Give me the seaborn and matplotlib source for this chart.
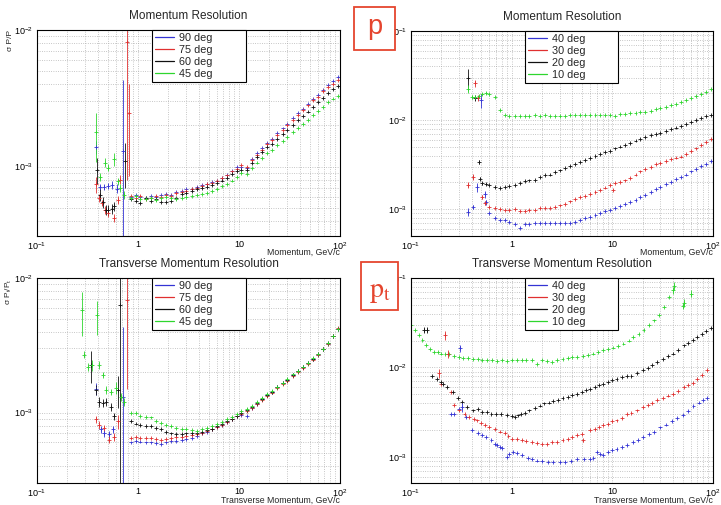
import numpy as np
import pandas as pd
import matplotlib
matplotlib.use("Agg")
import matplotlib.pyplot as plt
import seaborn as sns
from matplotlib.lines import Line2D
from matplotlib.patches import Rectangle
from matplotlib.ticker import FixedLocator, FuncFormatter, LogLocator, NullFormatter

# ---------------- data ----------------
# top left: momentum resolution, 90/75/60/45 deg  (values in units of 1e-4)
tl_x = [0.85, 0.95, 1.05, 1.2, 1.35, 1.5, 1.7, 1.9, 2.1, 2.4, 2.7, 3.0, 3.4, 3.8, 4.3, 4.8, 5.4, 6.0,
        6.8, 7.6, 8.5, 9.5, 10.5, 12, 13.5, 15, 17, 19, 21, 24, 27, 30, 34, 38, 43, 48, 54, 60, 68, 76, 85, 95]
tl_90 = [6.0, 6.2, 6.0, 5.9, 6.1, 6.0, 6.2, 6.3, 6.2, 6.5, 6.6, 6.8, 6.9, 7.1, 7.3, 7.4, 7.7, 7.9, 8.3, 8.7,
         9.3, 9.9, 10.0, 9.8, 11.3, 12.5, 13.6, 15.0, 16.0, 17.5, 19.0, 20.5, 22.5, 24.5, 26.5, 28.5, 31.0,
         33.5, 36.5, 39.5, 42.0, 45.0]
tl_75 = [6.1, 5.9, 6.1, 5.8, 5.9, 6.1, 6.0, 6.2, 6.1, 6.4, 6.5, 6.6, 6.8, 7.0, 7.2, 7.4, 7.6, 7.9, 8.2, 8.6,
         9.2, 9.6, 10.3, 10.0, 11.2, 12.2, 13.3, 14.6, 15.6, 17.0, 18.5, 20.0, 22.0, 24.0, 26.0, 28.0, 30.5,
         32.5, 35.5, 38.0, 40.5, 43.0]
tl_60 = [5.8, 5.6, 5.4, 5.9, 5.6, 5.8, 5.5, 5.5, 5.6, 5.9, 6.3, 6.4, 6.6, 6.8, 7.0, 7.1, 7.3, 7.6, 7.9, 8.3,
         8.8, 9.3, 9.5, 9.4, 10.6, 11.7, 12.7, 13.8, 14.7, 16.0, 17.3, 18.5, 20.2, 21.8, 23.5, 25.3, 27.5,
         29.5, 32.0, 34.5, 37.0, 39.0]
tl_45 = [5.9, 6.1, 5.8, 5.8, 5.9, 5.7, 5.9, 6.0, 5.9, 5.8, 5.9, 6.0, 6.1, 6.2, 6.3, 6.4, 6.6, 6.9, 7.2, 7.5,
         7.9, 8.4, 8.9, 8.8, 9.8, 10.7, 11.6, 12.5, 13.3, 14.3, 15.4, 16.5, 17.8, 19.2, 20.5, 22.0, 23.8,
         25.5, 27.5, 29.5, 31.5, 33.0]
# low momentum points with error bars (units of 1e-3)
tl_90_lo_x = [0.38, 0.42, 0.46, 0.50, 0.55, 0.62, 0.71]
tl_90_lo_y = [1.38, 0.71, 0.71, 0.72, 0.73, 0.69, 1.3]
tl_90_lo_e = [0.15, 0.04, 0.04, 0.04, 0.05, 0.05, 3.0]
tl_75_lo_x = [0.38, 0.41, 0.44, 0.47, 0.51, 0.58, 0.63, 0.66, 0.78, 0.81]
tl_75_lo_y = [0.74, 0.59, 0.54, 0.48, 0.46, 0.42, 0.57, 0.80, 8.2, 2.45]
tl_75_lo_e = [0.10, 0.04, 0.03, 0.03, 0.03, 0.03, 0.04, 0.06, 7.4, 1.6]
tl_60_lo_x = [0.39, 0.42, 0.45, 0.48, 0.51, 0.55, 0.58, 0.75]
tl_60_lo_y = [0.95, 0.62, 0.55, 0.48, 0.48, 0.49, 0.51, 1.1]
tl_60_lo_e = [0.20, 0.06, 0.05, 0.04, 0.04, 0.04, 0.04, 0.4]
tl_45_lo_x = [0.38, 0.42, 0.47, 0.51, 0.58, 0.63, 0.67, 0.72]
tl_45_lo_y = [1.78, 0.84, 1.07, 0.98, 1.13, 0.78, 0.70, 0.62]
tl_45_lo_e = [0.70, 0.06, 0.08, 0.06, 0.12, 0.05, 0.05, 0.04]

# top right: momentum resolution, 40/30/20/10 deg
tr_x = [0.6, 0.68, 0.76, 0.85, 0.95, 1.07, 1.2, 1.35, 1.5, 1.7, 1.9, 2.15, 2.4, 2.7, 3.0, 3.4, 3.8, 4.3,
        4.8, 5.4, 6.0, 6.8, 7.6, 8.5, 9.5, 10.7, 12, 13.5, 15, 17, 19, 21, 24, 27, 30, 34, 38, 43, 48,
        54, 60, 68, 76, 85, 95]
tr_40 = [9.0, 7.9, 7.6, 7.5, 7.2, 6.8, 6.1, 6.9, 6.9, 7.0, 7.0, 7.0, 7.0, 7.0, 7.0, 7.0, 7.0, 7.1, 7.5,
         7.9, 8.2, 8.6, 9.0, 9.5, 9.9, 10.3, 10.8, 11.4, 12.0, 12.8, 13.6, 14.5, 15.6, 16.7, 17.7, 19.0,
         20.3, 21.7, 23.0, 24.5, 26.5, 28.5, 30.5, 32.5, 34.5]           # 1e-4
tr_30 = [1.05, 1.02, 1.0, 0.99, 0.98, 1.0, 0.96, 0.95, 0.97, 0.99, 1.02, 1.04, 1.04, 1.07, 1.1, 1.15,
         1.22, 1.3, 1.37, 1.42, 1.47, 1.55, 1.63, 1.75, 1.85, 1.95, 2.0, 2.1, 2.25, 2.45, 2.65, 2.8, 3.0,
         3.2, 3.3, 3.5, 3.65, 3.8, 3.9, 4.15, 4.45, 4.8, 5.2, 5.65, 6.1]  # 1e-3
tr_20 = [1.88, 1.78, 1.72, 1.76, 1.83, 1.88, 1.96, 2.05, 2.1, 2.15, 2.3, 2.4, 2.45, 2.6, 2.72, 2.9, 3.05,
         3.2, 3.35, 3.55, 3.72, 3.95, 4.15, 4.35, 4.55, 4.8, 5.05, 5.3, 5.55, 5.9, 6.2, 6.45, 6.75, 6.95,
         7.15, 7.5, 7.85, 8.25, 8.65, 9.1, 9.5, 10.0, 10.5, 11.0, 11.5]   # 1e-3
tr_10 = [1.97, 1.80, 1.30, 1.13, 1.10, 1.11, 1.12, 1.11, 1.12, 1.13, 1.12, 1.14, 1.11, 1.10, 1.12, 1.11,
         1.13, 1.14, 1.13, 1.14, 1.13, 1.15, 1.14, 1.15, 1.14, 1.10, 1.16, 1.18, 1.19, 1.21, 1.22, 1.24,
         1.28, 1.32, 1.36, 1.40, 1.46, 1.53, 1.60, 1.67, 1.75, 1.85, 1.96, 2.08, 2.22]  # 1e-2
tr_40_lo_x = [0.37, 0.41, 0.45, 0.50, 0.54, 0.56]
tr_40_lo_y = [0.93, 1.05, 1.77, 16.8, 1.47, 1.2]   # 1e-3
tr_40_lo_e = [0.10, 0.05, 0.20, 3.0, 0.15, 0.08]
tr_30_lo_x = [0.37, 0.41, 0.43, 0.46, 0.51, 0.54, 10.2]
tr_30_lo_y = [1.86, 2.3, 26.0, 17.7, 1.37, 1.17, 1.65]
tr_30_lo_e = [0.15, 0.2, 2.5, 1.5, 0.08, 0.06, 0.04]
tr_20_lo_x = [0.37, 0.43, 0.47, 0.49, 0.51, 0.55]
tr_20_lo_y = [29.6, 17.7, 3.4, 2.2, 1.96, 1.92]
tr_20_lo_e = [8.0, 1.2, 0.15, 0.1, 0.08, 0.06]
tr_10_lo_x = [0.37, 0.40, 0.43, 0.47, 0.51, 0.55]
tr_10_lo_y = [22.5, 18.2, 18.0, 18.5, 19.6, 20.0]
tr_10_lo_e = [2.5, 1.0, 0.8, 0.8, 0.6, 0.5]

# bottom left: transverse momentum resolution, 90/75/60/45 deg (1e-4)
bl_x = tl_x
bl_90 = [6.0, 6.2, 6.1, 6.0, 6.0, 5.9, 5.8, 6.0, 6.2, 6.2, 6.3, 6.4, 6.5, 6.7, 7.0, 7.2, 7.5, 7.8, 8.1,
         8.5, 9.0, 9.5, 9.6, 9.4, 10.8, 11.6, 12.6, 13.5, 14.3, 15.5, 16.6, 17.6, 19.0, 20.3, 21.8, 23.2,
         25.0, 27.0, 29.5, 32.5, 37.0, 42.0]
bl_75 = [6.5, 6.6, 6.5, 6.5, 6.5, 6.4, 6.3, 6.4, 6.5, 6.6, 6.6, 6.7, 6.8, 6.9, 7.1, 7.3, 7.5, 7.8, 8.1,
         8.5, 8.9, 9.4, 9.8, 10.2, 10.8, 11.5, 12.4, 13.3, 14.1, 15.2, 16.3, 17.3, 18.8, 20.1, 21.6, 23.0,
         24.8, 26.8, 29.5, 32.5, 37.0, 42.5]
bl_60 = [8.6, 8.3, 8.1, 8.0, 7.9, 7.7, 7.5, 7.2, 7.0, 6.9, 6.9, 7.0, 7.1, 7.1, 7.2, 7.4, 7.6, 7.9, 8.2,
         8.6, 9.0, 9.5, 9.9, 10.4, 11.0, 11.7, 12.6, 13.5, 14.3, 15.4, 16.5, 17.5, 19.0, 20.3, 21.8, 23.3,
         25.2, 27.2, 29.8, 32.8, 37.0, 42.0]
bl_45 = [10.0, 9.9, 9.5, 9.3, 9.2, 8.7, 8.4, 8.1, 7.9, 7.7, 7.6, 7.5, 7.4, 7.3, 7.5, 7.7, 7.9, 8.2, 8.5,
         8.9, 9.3, 9.8, 10.2, 10.6, 11.2, 11.9, 12.8, 13.7, 14.5, 15.6, 16.7, 17.7, 19.2, 20.5, 22.0, 23.5,
         25.3, 27.3, 29.9, 33.0, 37.2, 42.0]
bl_90_lo_x = [0.38, 0.43, 0.46, 0.52, 0.56, 0.71]
bl_90_lo_y = [1.5, 0.75, 0.70, 0.69, 0.75, 1.3]   # 1e-3
bl_90_lo_e = [0.15, 0.05, 0.04, 0.04, 0.05, 3.0]
bl_75_lo_x = [0.38, 0.41, 0.46, 0.52, 0.58, 0.64, 0.78]
bl_75_lo_y = [0.89, 0.81, 0.77, 0.63, 0.66, 0.86, 6.9]
bl_75_lo_e = [0.05, 0.05, 0.04, 0.04, 0.04, 0.10, 5.4]
bl_60_lo_x = [0.34, 0.38, 0.41, 0.45, 0.48, 0.54, 0.58, 0.63, 0.66]
bl_60_lo_y = [2.27, 1.48, 1.2, 1.18, 1.2, 1.1, 0.94, 1.48, 6.3]
bl_60_lo_e = [0.60, 0.12, 0.1, 0.08, 0.08, 0.08, 0.06, 0.40, 7.0]
bl_45_lo_x = [0.28, 0.295, 0.32, 0.35, 0.39, 0.41, 0.45, 0.48, 0.54, 0.60, 0.68, 0.72]
bl_45_lo_y = [5.8, 2.7, 2.2, 2.25, 5.3, 2.25, 1.9, 1.48, 1.43, 1.53, 1.31, 1.2]
bl_45_lo_e = [2.1, 0.15, 0.15, 0.2, 1.5, 0.15, 0.1, 0.1, 0.08, 0.15, 0.1, 0.08]

# bottom right: transverse momentum resolution, 40/30/20/10 deg
br_40_x = [0.25, 0.27, 0.3, 0.35, 0.4, 0.46, 0.51, 0.56, 0.63, 0.68, 0.72, 0.76, 0.81, 0.89, 0.95, 1.03,
           1.12, 1.26, 1.45, 1.6, 1.8, 2.0, 2.3, 2.6, 3.0, 3.4, 3.9, 4.5, 5.2, 6.0, 6.5, 7.0, 7.6, 8.1,
           9.0, 10, 11, 12.5, 14, 16, 18, 20, 23, 26, 30, 34, 39, 44, 50, 57, 64, 72, 80, 87]
br_40 = [30.5, 30.0, 34.0, 27.7, 19.8, 18.3, 17.5, 16.6, 15.3, 14.0, 13.5, 12.9, 12.5, 10.0, 10.8, 11.3,
         11.0, 10.5, 9.8, 9.4, 9.1, 8.9, 8.7, 8.7, 8.7, 8.8, 9.0, 9.4, 9.4, 9.5, 9.6, 11.2, 10.8, 10.5,
         11.2, 11.8, 12.2, 12.8, 13.5, 14.5, 15.5, 16.6, 17.8, 19.0, 21.3, 23.0, 25.0, 27.0, 29.5, 32.5,
         37.0, 40.5, 43.0, 45.0]  # 1e-4
br_30_x = [0.2, 0.25, 0.27, 0.3, 0.34, 0.38, 0.42, 0.45, 0.5, 0.54, 0.6, 0.68, 0.76, 0.85, 0.93, 1.0, 1.12,
           1.26, 1.4, 1.6, 1.8, 2.0, 2.25, 2.5, 2.8, 3.2, 3.6, 4.0, 4.5, 5.0, 6.0, 6.7, 7.4, 8.1, 9.0, 10,
           11, 12.5, 14, 15.5, 17.5, 20, 22.5, 25, 28, 32, 36, 40, 45, 51, 57, 63, 69, 77, 88]
br_30 = [6.6, 5.3, 3.76, 3.3, 3.05, 2.77, 2.65, 2.55, 2.4, 2.25, 2.15, 2.03, 1.92, 1.83, 1.7, 1.6, 1.57,
         1.53, 1.5, 1.47, 1.42, 1.38, 1.4, 1.45, 1.48, 1.53, 1.6, 1.68, 1.74, 1.8, 1.98, 2.05, 2.15, 2.25,
         2.35, 2.5, 2.55, 2.75, 3.0, 3.1, 3.3, 3.57, 3.8, 4.0, 4.3, 4.55, 4.85, 5.1, 5.5, 6.0, 6.3, 6.7,
         7.5, 8.2, 9.3]  # 1e-3
br_20_x = [0.16, 0.18, 0.2, 0.21, 0.23, 0.26, 0.29, 0.32, 0.36, 0.41, 0.46, 0.51, 0.57, 0.63, 0.7, 0.79,
           0.89, 1.0, 1.08, 1.15, 1.25, 1.35, 1.5, 1.7, 1.9, 2.1, 2.35, 2.6, 2.9, 3.2, 3.6, 4.0, 4.5, 5.0,
           5.5, 6.0, 6.7, 7.4, 8.1, 9.0, 10, 11, 12.5, 14, 15.5, 17.5, 20, 22.5, 25, 28, 32, 36, 40, 45,
           51, 57, 63, 69, 77, 85, 95]
br_20 = [8.1, 7.5, 6.8, 6.6, 6.0, 5.3, 4.6, 4.1, 3.6, 3.3, 3.4, 3.2, 3.15, 3.05, 3.0, 3.0, 2.95, 2.85,
         2.8, 2.9, 3.0, 3.1, 3.3, 3.55, 3.75, 3.95, 4.05, 4.2, 4.35, 4.5, 4.7, 4.9, 5.1, 5.3, 5.55, 5.8,
         6.05, 6.3, 6.6, 6.9, 7.2, 7.5, 7.8, 8.0, 8.1, 8.7, 9.3, 9.9, 10.6, 11.4, 12.4, 13.4, 14.3, 15.7,
         17.6, 18.9, 20.3, 21.7, 23.5, 25.3, 27.3]  # 1e-3
br_10_x = [0.10, 0.11, 0.12, 0.13, 0.14, 0.155, 0.17, 0.185, 0.2, 0.22, 0.24, 0.27, 0.3, 0.33, 0.37,
           0.41, 0.46, 0.51, 0.57, 0.64, 0.72, 0.8, 0.9, 1.0, 1.12, 1.26, 1.4, 1.6, 1.8, 2.0, 2.25, 2.5,
           2.8, 3.2, 3.6, 4.0, 4.5, 5.1, 5.7, 6.4, 7.2, 8.1, 9.1, 10.2, 11.5, 12.9, 14.5, 16.2, 18.2,
           20.4, 22.9, 25.7, 28.8, 32.4, 36.3]
br_10 = [2.95, 2.6, 2.3, 2.05, 1.8, 1.6, 1.5, 1.48, 1.43, 1.42, 1.4, 1.34, 1.3, 1.28, 1.26, 1.25, 1.23,
         1.22, 1.2, 1.21, 1.19, 1.2, 1.18, 1.2, 1.21, 1.22, 1.2, 1.22, 1.1, 1.2, 1.18, 1.15, 1.2, 1.24,
         1.26, 1.3, 1.31, 1.33, 1.38, 1.43, 1.48, 1.55, 1.6, 1.67, 1.75, 1.85, 2.0, 2.17, 2.38, 2.6,
         2.95, 3.35, 3.9, 4.7, 6.1]  # 1e-2
br_40_lo_x = [0.31, 0.32]
br_40_lo_y = [16.3, 3.6]   # 1e-3
br_40_lo_e = [1.5, 0.4]
br_30_lo_x = [0.19, 0.22, 0.235, 5.1]
br_30_lo_y = [8.6, 22.8, 14.3, 1.53]
br_30_lo_e = [0.9, 2.5, 1.5, 0.05]
br_20_lo_x = [0.135, 0.145]
br_20_lo_y = [26.5, 26.5]
br_20_lo_e = [2.0, 2.0]
br_10_lo_x = [40, 41, 50, 52, 60]
br_10_lo_y = [73, 82, 49, 53, 67]
br_10_lo_e = [6, 8, 4, 5, 6]

blue, red, black, green = "#3434d4", "#e03030", "#111111", "#2ed62e"

sns.set_theme(style="white")
plt.rcParams["font.family"] = ["Liberation Sans", "DejaVu Sans"]
plt.rcParams["mathtext.default"] = "regular"

fig = plt.figure(figsize=(7.21, 5.05), dpi=100)
W, H = 721.0, 505.0


def add_axes(l, t, r, b):
    return fig.add_axes([l / W, 1 - b / H, (r - l) / W, (b - t) / H])


def draw(ax, main, lows, labels, title, xlabel, ylabel, ylim, leg_x, lab_y):
    frames = []
    for (x, y, sc), lab in zip(main, labels):
        frames.append(pd.DataFrame({"x": x, "y": np.array(y) * sc, "angle": lab}))
    df = pd.concat(frames)
    cols = [blue, red, black, green]
    sns.scatterplot(data=df, x="x", y="y", hue="angle", palette=dict(zip(labels, cols)),
                    marker="+", s=8, linewidth=0.6, legend=False, ax=ax)
    for (x, y, e), c in zip(lows, cols):
        ax.errorbar(x, np.array(y) * 1e-3, yerr=np.array(e) * 1e-3, fmt="+", color=c,
                    ms=3.5, mew=0.6, elinewidth=0.6)
    ax.set_xscale("log")
    ax.set_yscale("log")
    ax.set_xlim(0.1, 100)
    ax.set_ylim(*ylim)
    ax.grid(True, which="both", ls=(0, (1, 2)), color="#a6a6a6", lw=0.55)
    ax.set_axisbelow(True)
    for s in ax.spines.values():
        s.set_color("black")
        s.set_linewidth(0.8)
    ax.tick_params(which="both", direction="in", top=False, right=False, labelsize=6.5,
                   width=0.6, colors="black")
    ax.tick_params(which="major", length=7, pad=3)
    ax.tick_params(which="minor", length=3.5)
    xlab = {0.1: "$10^{-1}$", 1: "1", 10: "10", 100: "$10^{2}$"}
    ax.xaxis.set_major_locator(FixedLocator([0.1, 1, 10, 100]))
    ax.xaxis.set_major_formatter(FuncFormatter(lambda v, p: xlab.get(round(v, 3), "")))
    ax.xaxis.set_minor_locator(LogLocator(base=10, subs=np.arange(2, 10)))
    ax.xaxis.set_minor_formatter(NullFormatter())
    ylab = {0.1: "$10^{-1}$", 0.01: "$10^{-2}$", 0.001: "$10^{-3}$"}
    ax.yaxis.set_major_locator(FixedLocator([0.001, 0.01, 0.1]))
    ax.yaxis.set_major_formatter(FuncFormatter(lambda v, p: ylab.get(round(v, 5), "")))
    ax.yaxis.set_minor_locator(LogLocator(base=10, subs=np.arange(2, 10)))
    ax.yaxis.set_minor_formatter(NullFormatter())
    ax.set_title(title, fontsize=8.5, pad=8)
    ax.set_xlabel(xlabel, loc="right", fontsize=6.3)
    ax.xaxis.set_label_coords(1.0, lab_y)
    ax.set_ylabel(ylabel, loc="top", fontsize=6)
    ax.yaxis.set_label_coords(-0.075, 1.0)
    handles = [Line2D([0], [0], color=c, lw=0.9) for c in cols]
    leg = ax.legend(handles, labels, loc="upper left", bbox_to_anchor=(leg_x, 0.5, 0.31, 0.5),
                    mode="expand", fontsize=7.8, frameon=True, fancybox=False, edgecolor="black",
                    framealpha=1, borderaxespad=0, handlelength=1.7, handletextpad=0.5,
                    labelspacing=0.18, borderpad=0.3)
    leg.get_frame().set_linewidth(0.8)


ax1 = add_axes(37, 30, 340, 236)
draw(ax1,
     [(tl_x, tl_90, 1e-4), (tl_x, tl_75, 1e-4), (tl_x, tl_60, 1e-4), (tl_x, tl_45, 1e-4)],
     [(tl_90_lo_x, tl_90_lo_y, tl_90_lo_e), (tl_75_lo_x, tl_75_lo_y, tl_75_lo_e),
      (tl_60_lo_x, tl_60_lo_y, tl_60_lo_e), (tl_45_lo_x, tl_45_lo_y, tl_45_lo_e)],
     ["90 deg", "75 deg", "60 deg", "45 deg"], "Momentum Resolution",
     "Momentum, GeV/c", "σ P/P", (3.1e-4, 1e-2), 0.38, -0.058)

ax2 = add_axes(411, 31, 713, 236)
draw(ax2,
     [(tr_x, tr_40, 1e-4), (tr_x, tr_30, 1e-3), (tr_x, tr_20, 1e-3), (tr_x, tr_10, 1e-2)],
     [(tr_40_lo_x, tr_40_lo_y, tr_40_lo_e), (tr_30_lo_x, tr_30_lo_y, tr_30_lo_e),
      (tr_20_lo_x, tr_20_lo_y, tr_20_lo_e), (tr_10_lo_x, tr_10_lo_y, tr_10_lo_e)],
     ["40 deg", "30 deg", "20 deg", "10 deg"], "Momentum Resolution",
     "Momentum, GeV/c", "", (5e-4, 1e-1), 0.377, -0.058)

ax3 = add_axes(37, 278, 340, 483)
draw(ax3,
     [(bl_x, bl_90, 1e-4), (bl_x, bl_75, 1e-4), (bl_x, bl_60, 1e-4), (bl_x, bl_45, 1e-4)],
     [(bl_90_lo_x, bl_90_lo_y, bl_90_lo_e), (bl_75_lo_x, bl_75_lo_y, bl_75_lo_e),
      (bl_60_lo_x, bl_60_lo_y, bl_60_lo_e), (bl_45_lo_x, bl_45_lo_y, bl_45_lo_e)],
     ["90 deg", "75 deg", "60 deg", "45 deg"], "Transverse Momentum Resolution",
     "Transverse Momentum, GeV/c", "σ P$_t$/P$_t$", (3e-4, 1e-2), 0.38, -0.062)

ax4 = add_axes(411, 278, 713, 483)
draw(ax4,
     [(br_40_x, br_40, 1e-4), (br_30_x, br_30, 1e-3), (br_20_x, br_20, 1e-3), (br_10_x, br_10, 1e-2)],
     [(br_40_lo_x, br_40_lo_y, br_40_lo_e), (br_30_lo_x, br_30_lo_y, br_30_lo_e),
      (br_20_lo_x, br_20_lo_y, br_20_lo_e), (br_10_lo_x, br_10_lo_y, br_10_lo_e)],
     ["40 deg", "30 deg", "20 deg", "10 deg"], "Transverse Momentum Resolution",
     "Transverse Momentum, GeV/c", "", (5.1e-4, 1e-1), 0.377, -0.062)

# red tag boxes
box_red = "#e5452e"
fig.add_artist(Rectangle((354 / W, 1 - 50 / H), 41 / W, 43 / H, transform=fig.transFigure,
                         facecolor="white", edgecolor=box_red, lw=1.3))
fig.text(374.5 / W, 1 - 34 / H, "p", ha="center", va="baseline", color=box_red, fontsize=19.5)
fig.add_artist(Rectangle((361 / W, 1 - 310 / H), 37 / W, 48 / H, transform=fig.transFigure,
                         facecolor="white", edgecolor=box_red, lw=1.3))
fig.text(379.5 / W, 1 - 297 / H, r"$\mathrm{p_t}$", ha="center", va="baseline", color=box_red,
         fontsize=20, math_fontfamily="stix")

fig.savefig("out.png", dpi=100)
